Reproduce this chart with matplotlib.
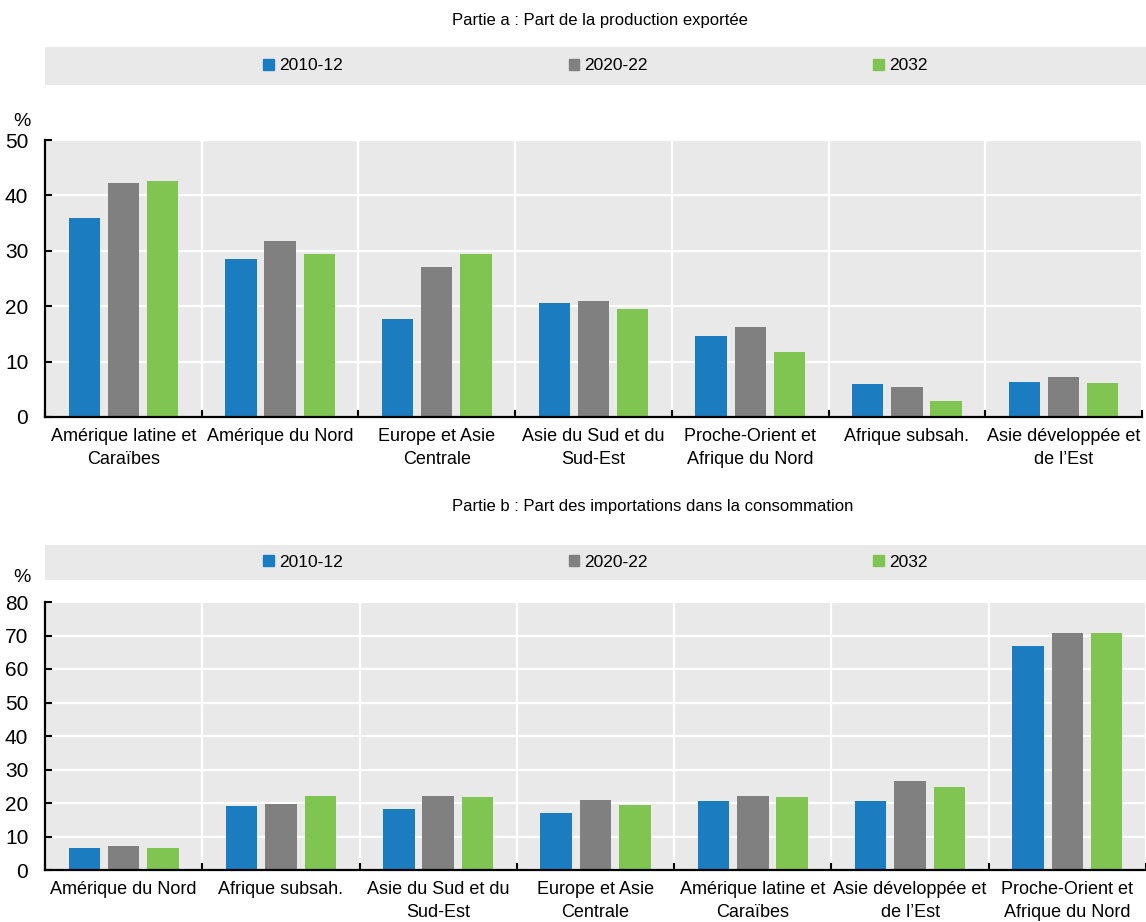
import matplotlib

matplotlib.use("Agg")
import matplotlib.pyplot as plt
import numpy as np
from matplotlib import font_manager
from matplotlib.patches import Patch

# ---- data -------------------------------------------------------------
series = ["2010-12", "2020-22", "2032"]

cats_a = ["Amérique latine et\nCaraïbes", "Amérique du Nord", "Europe et Asie\nCentrale",
          "Asie du Sud et du\nSud-Est", "Proche-Orient et\nAfrique du Nord",
          "Afrique subsah.", "Asie développée et\nde l’Est"]
a_2010 = [35.9, 28.5, 17.7, 20.6, 14.7, 6.0, 6.4]
a_2020 = [42.2, 31.8, 27.0, 20.9, 16.3, 5.4, 7.3]
a_2032 = [42.6, 29.5, 29.4, 19.5, 11.7, 2.9, 6.1]

cats_b = ["Amérique du Nord", "Afrique subsah.", "Asie du Sud et du\nSud-Est",
          "Europe et Asie\nCentrale", "Amérique latine et\nCaraïbes",
          "Asie développée et\nde l’Est", "Proche-Orient et\nAfrique du Nord"]
b_2010 = [6.5, 19.2, 18.1, 17.1, 20.6, 20.7, 67.0]
b_2020 = [7.2, 19.8, 22.2, 20.9, 22.2, 26.7, 70.7]
b_2032 = [6.6, 22.1, 21.9, 19.3, 21.7, 24.7, 70.7]

title_a = "Partie a : Part de la production exportée"
title_b = "Partie b : Part des importations dans la consommation"

# ---- style ------------------------------------------------------------
COLORS = ["#1b7cc0", "#808080", "#80c552"]
BG = "#e9e9e9"

installed = {f.name for f in font_manager.fontManager.ttflist}
families = [f for f in ["Liberation Sans Narrow", "Liberation Sans", "DejaVu Sans"] if f in installed]
plt.rcParams["font.family"] = families
plt.rcParams["text.color"] = "black"


def draw_panel(ax, cats, vals, ymax):
    x = np.arange(len(cats))
    width, step = 0.2, 0.25
    for k, v in enumerate(vals):
        ax.bar(x + (k - 1) * step, v, width=width, color=COLORS[k], zorder=3)
    ax.set_facecolor(BG)
    ax.set_xlim(-0.5, len(cats) - 0.5)
    ax.set_ylim(0, ymax)
    ax.set_yticks(np.arange(0, ymax + 1, 10))
    ax.set_xticks(x)
    ax.set_xticklabels(cats, fontsize=13, linespacing=1.45)
    ax.set_xticks(np.arange(len(cats) + 1) - 0.5, minor=True)
    ax.tick_params(axis="x", which="major", length=0, pad=8)
    ax.tick_params(axis="x", which="minor", direction="in", length=5, width=1.5)
    ax.tick_params(axis="y", direction="in", length=5, width=1.5, labelsize=15, pad=12)
    ax.grid(True, axis="y", color="white", lw=1.6, zorder=1)
    ax.grid(True, axis="x", which="minor", color="white", lw=1.6, zorder=1)
    for s in ("top", "right"):
        ax.spines[s].set_visible(False)
    for s in ("left", "bottom"):
        ax.spines[s].set_linewidth(1.6)
        ax.spines[s].set_zorder(4)


def draw_legend(fig, rect):
    lax = fig.add_axes(rect)
    lax.set_facecolor(BG)
    lax.set_xticks([])
    lax.set_yticks([])
    for s in lax.spines.values():
        s.set_visible(False)
    handles = [Patch(color=c) for c in COLORS]
    lax.legend(handles, series, ncol=3, loc="center", frameon=False, fontsize=12.5,
               handlelength=0.6, handleheight=0.6, handletextpad=0.3,
               columnspacing=13.0, bbox_to_anchor=(0.5, 0.5))


W, H = 1146, 922
fig = plt.figure(figsize=(W / 100, H / 100), dpi=100)

ax_a = fig.add_axes([45 / W, 1 - 417 / H, (1142 - 45) / W, (417 - 140) / H])
draw_panel(ax_a, cats_a, [a_2010, a_2020, a_2032], 50)
ax_b = fig.add_axes([45 / W, 1 - 870 / H, (1146 - 45) / W, (870 - 602) / H])
draw_panel(ax_b, cats_b, [b_2010, b_2020, b_2032], 80)

draw_legend(fig, [45 / W, 1 - 85 / H, (1146 - 45) / W, 38 / H])
draw_legend(fig, [45 / W, 1 - 580 / H, (1146 - 45) / W, 35 / H])

fig.text(452 / W, 1 - 20 / H, title_a, fontsize=12, va="center", ha="left")
fig.text(452 / W, 1 - 507 / H, title_b, fontsize=12, va="center", ha="left")
fig.text(22 / W, 1 - 121 / H, "%", fontsize=14, va="center", ha="center")
fig.text(22 / W, 1 - 578 / H, "%", fontsize=14, va="center", ha="center")

fig.savefig("out.png", dpi=100)
